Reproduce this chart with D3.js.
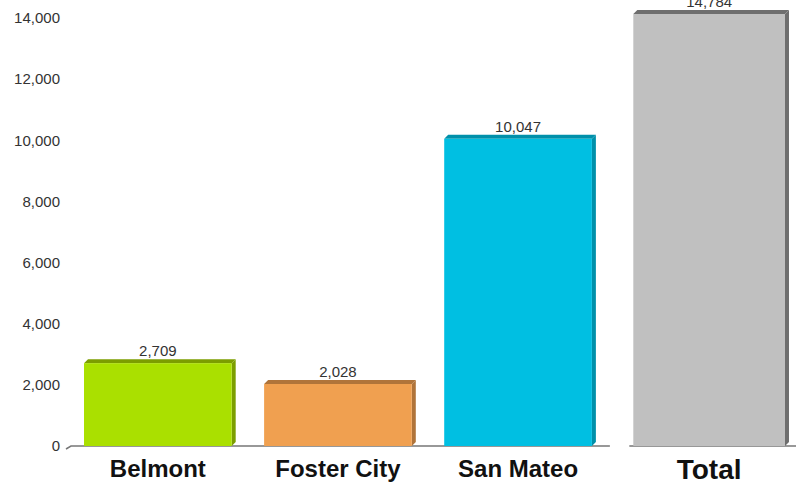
<!DOCTYPE html>
<html>
<head>
<meta charset="utf-8">
<script src="https://cdn.jsdelivr.net/npm/d3@7"></script>
<style>
  body { margin: 0; background: #fff; }
  svg { display: block; }
</style>
</head>
<body>
<script>
const width = 796;
const height = 483;

const categories = ["Belmont", "Foster City", "San Mateo", "Total"];
const values = [2709, 2028, 10047, 14784];
const yTicks = [0, 2000, 4000, 6000, 8000, 10000, 12000, 14000];

const frontColors = ["#aae000", "#f0a050", "#00bfe2", "#c0c0c0"];
const topColors = ["#7c9e00", "#b0743a", "#0090aa", "#6e6e6e"];

const depth = 4;      // 3d offset of bars
const totalShift = 9; // Total sits a little apart from the cities

const svg = d3.select("body")
  .append("svg")
  .attr("width", width)
  .attr("height", height);

// chart is cropped at the top, so the total bar is clamped
const y = d3.scaleLinear()
  .domain([0, 14130])
  .range([446, 14])
  .clamp(true);

const x = d3.scaleBand()
  .domain(categories)
  .range([66, 790])
  .paddingInner(0.18)
  .paddingOuter(0.1);

function barX(c) {
  return x(c) + (c === "Total" ? totalShift : 0);
}
function barW(c) {
  return x.bandwidth() + (c === "Total" ? 4 : 0);
}

// y axis labels
svg.append("g")
  .selectAll("text")
  .data(yTicks)
  .enter().append("text")
  .attr("x", 60)
  .attr("y", d => y(d))
  .attr("dy", "0.35em")
  .attr("text-anchor", "end")
  .style("font-family", "Arial, 'Liberation Sans', sans-serif")
  .style("font-size", "15px")
  .style("fill", "#333")
  .text(d => d3.format(",")(d));

// baseline, broken before Total
const x0 = y(0);
const gapL = x("San Mateo") + x.bandwidth() + 18;
const gapR = barX("Total") - 4;
svg.append("path")
  .attr("d", `M66,${x0 + 3}L71,${x0}H${gapL}M${gapR},${x0}H${width}`)
  .attr("fill", "none")
  .attr("stroke", "#777")
  .attr("stroke-width", 1.5);

const bar = svg.selectAll("g.bar")
  .data(categories)
  .enter().append("g")
  .attr("class", "bar");

// side face
bar.append("path")
  .attr("d", (c, i) => {
    const bx = barX(c) + barW(c);
    const top = y(values[i]);
    return `M${bx},${top}L${bx + depth},${top - depth}V${x0 - depth}L${bx},${x0}Z`;
  })
  .attr("fill", (c, i) => topColors[i]);

// top face
bar.append("path")
  .attr("d", (c, i) => {
    const bx = barX(c);
    const top = y(values[i]);
    return `M${bx},${top}L${bx + depth},${top - depth}H${bx + barW(c) + depth}L${bx + barW(c)},${top}Z`;
  })
  .attr("fill", (c, i) => topColors[i]);

// front face
bar.append("rect")
  .attr("x", c => barX(c))
  .attr("y", (c, i) => y(values[i]))
  .attr("width", c => barW(c))
  .attr("height", (c, i) => x0 - y(values[i]))
  .attr("fill", (c, i) => frontColors[i]);

// value labels
bar.append("text")
  .attr("x", c => barX(c) + barW(c) / 2)
  .attr("y", (c, i) => y(values[i]) - depth - 3)
  .attr("text-anchor", "middle")
  .style("font-family", "Arial, 'Liberation Sans', sans-serif")
  .style("font-size", "15px")
  .style("fill", "#333")
  .text((c, i) => d3.format(",")(values[i]));

// category labels
bar.append("text")
  .attr("x", c => barX(c) + barW(c) / 2)
  .attr("y", c => c === "Total" ? 479 : 477)
  .attr("text-anchor", "middle")
  .style("font-family", "Arial, 'Liberation Sans', sans-serif")
  .style("font-weight", "bold")
  .style("font-size", c => c === "Total" ? "28px" : "24px")
  .style("fill", "#111")
  .text(c => c);
</script>
</body>
</html>
